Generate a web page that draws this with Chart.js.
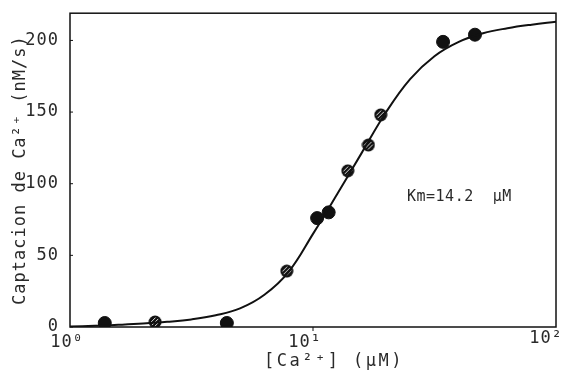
<!DOCTYPE html>
<html>
<head>
<meta charset="utf-8">
<script src="https://cdn.jsdelivr.net/npm/chart.js@4"></script>
<style>
  body { margin: 0; background: #fff; }
</style>
</head>
<body>
<canvas id="chart" width="565" height="372"></canvas>
<script>
// fitted curve (one point per 0.1 decade)
const curveX = [1, 1.26, 1.58, 2, 2.51, 3.16, 3.98, 5.01, 6.31, 7.94, 10, 12.6, 15.8, 20, 25.1, 31.6, 39.8, 50.1, 63.1, 79.4, 100];
const curveY = [0.3, 0.8, 1.5, 2.4, 3.6, 5.3, 8.2, 13, 22.5, 38.5, 65, 93, 121, 150, 173, 189, 199, 205, 208.5, 211, 213];

// measured points
const filledX = [1.39, 4.42, 10.4, 11.6, 34.3, 46.4];
const filledY = [2.8, 2.8, 76, 80, 199, 204];
const hatchedX = [2.24, 7.8, 13.9, 16.9, 19];
const hatchedY = [3.5, 39, 109, 127, 148];

const yTicks = [0, 50, 100, 150, 200];
const xTicks = [1, 10, 100];
const xTickLabels = ["10\u2070", "10\u00b9", "10\u00b2"];

const textColor = "#2a2a2a";
const font = "'DejaVu Sans Mono', monospace";

function toPoints(xs, ys) {
    return xs.map((x, i) => ({ x: x, y: ys[i] }));
}

function hatchMarker() {
    const c = document.createElement("canvas");
    c.width = 14;
    c.height = 14;
    const g = c.getContext("2d");
    g.fillStyle = "#111";
    g.beginPath();
    g.arc(7, 7, 6.5, 0, Math.PI * 2);
    g.fill();
    g.save();
    g.beginPath();
    g.arc(7, 7, 4.5, 0, Math.PI * 2);
    g.clip();
    g.strokeStyle = "#ddd";
    g.lineWidth = 1;
    for (let k = -8; k <= 8; k += 4) {
        g.beginPath();
        g.moveTo(k, 14);
        g.lineTo(k + 14, 0);
        g.stroke();
    }
    g.restore();
    return c;
}

const framePlugin = {
    id: "frame",
    beforeDraw(chart) {
        chart.ctx.letterSpacing = "1px";
    },
    afterDraw(chart) {
        const ctx = chart.ctx;
        const a = chart.chartArea;
        const xs = chart.scales.x;
        const ys = chart.scales.y;
        ctx.save();
        ctx.strokeStyle = "#111";
        ctx.lineWidth = 1.5;
        ctx.strokeRect(a.left, a.top, a.right - a.left, a.bottom - a.top);

        // small inward ticks on the y axis
        ctx.lineWidth = 1;
        for (const v of yTicks) {
            const py = ys.getPixelForValue(v);
            ctx.beginPath();
            ctx.moveTo(a.left, py);
            ctx.lineTo(a.left + 3, py);
            ctx.stroke();
        }
        const p10 = xs.getPixelForValue(10);
        ctx.beginPath();
        ctx.moveTo(p10, a.bottom);
        ctx.lineTo(p10, a.bottom + 4);
        ctx.stroke();

        // x tick labels
        ctx.fillStyle = textColor;
        ctx.font = "17px " + font;
        ctx.textAlign = "center";
        ctx.textBaseline = "middle";
        const offs = [-3, -8, -10];
        const lift = [16, 16, 12];
        xTicks.forEach((v, i) => {
            ctx.fillText(xTickLabels[i], xs.getPixelForValue(v) + offs[i], a.bottom + lift[i]);
        });

        // x title
        ctx.letterSpacing = "2.5px";
        ctx.fillText("[Ca\u00b2\u207a] (\u03bcM)", 334, 362);

        // Km note
        ctx.letterSpacing = "0.5px";
        ctx.font = "15px " + font;
        ctx.textAlign = "left";
        ctx.fillText("Km=14.2  \u03bcM", 407, 197);
        ctx.restore();
    }
};

new Chart(document.getElementById("chart").getContext("2d"), {
    type: "scatter",
    data: {
        datasets: [
            {
                type: "line",
                data: toPoints(curveX, curveY),
                borderColor: "#111",
                borderWidth: 2,
                pointRadius: 0,
                fill: false,
                tension: 0.4
            },
            {
                data: toPoints(filledX, filledY),
                backgroundColor: "#111",
                borderColor: "#111",
                pointRadius: 6.5
            },
            {
                data: toPoints(hatchedX, hatchedY),
                pointStyle: hatchMarker(),
                pointRadius: 7
            }
        ]
    },
    options: {
        responsive: false,
        animation: false,
        layout: { padding: { top: 10, right: 9, left: 0, bottom: 0 } },
        plugins: {
            legend: { display: false },
            tooltip: { enabled: false }
        },
        scales: {
            x: {
                type: "logarithmic",
                min: 1,
                max: 100,
                afterBuildTicks: (s) => { s.ticks = xTicks.map(v => ({ value: v })); },
                afterFit: (s) => { s.height = 45; },
                ticks: { display: false },
                grid: { display: false },
                border: { display: false }
            },
            y: {
                min: 0,
                max: 219,
                afterBuildTicks: (s) => { s.ticks = yTicks.map(v => ({ value: v })); },
                afterFit: (s) => { s.width = 70; },
                ticks: {
                    color: textColor,
                    padding: 3,
                    font: { family: font, size: 17 }
                },
                grid: { display: false },
                border: { display: false },
                title: {
                    display: true,
                    text: "Captacion de Ca\u00b2\u207a (nM/s)",
                    color: textColor,
                    font: { family: font, size: 17 },
                    padding: { top: 10, bottom: 0 }
                }
            }
        }
    },
    plugins: [framePlugin]
});
</script>
</body>
</html>
